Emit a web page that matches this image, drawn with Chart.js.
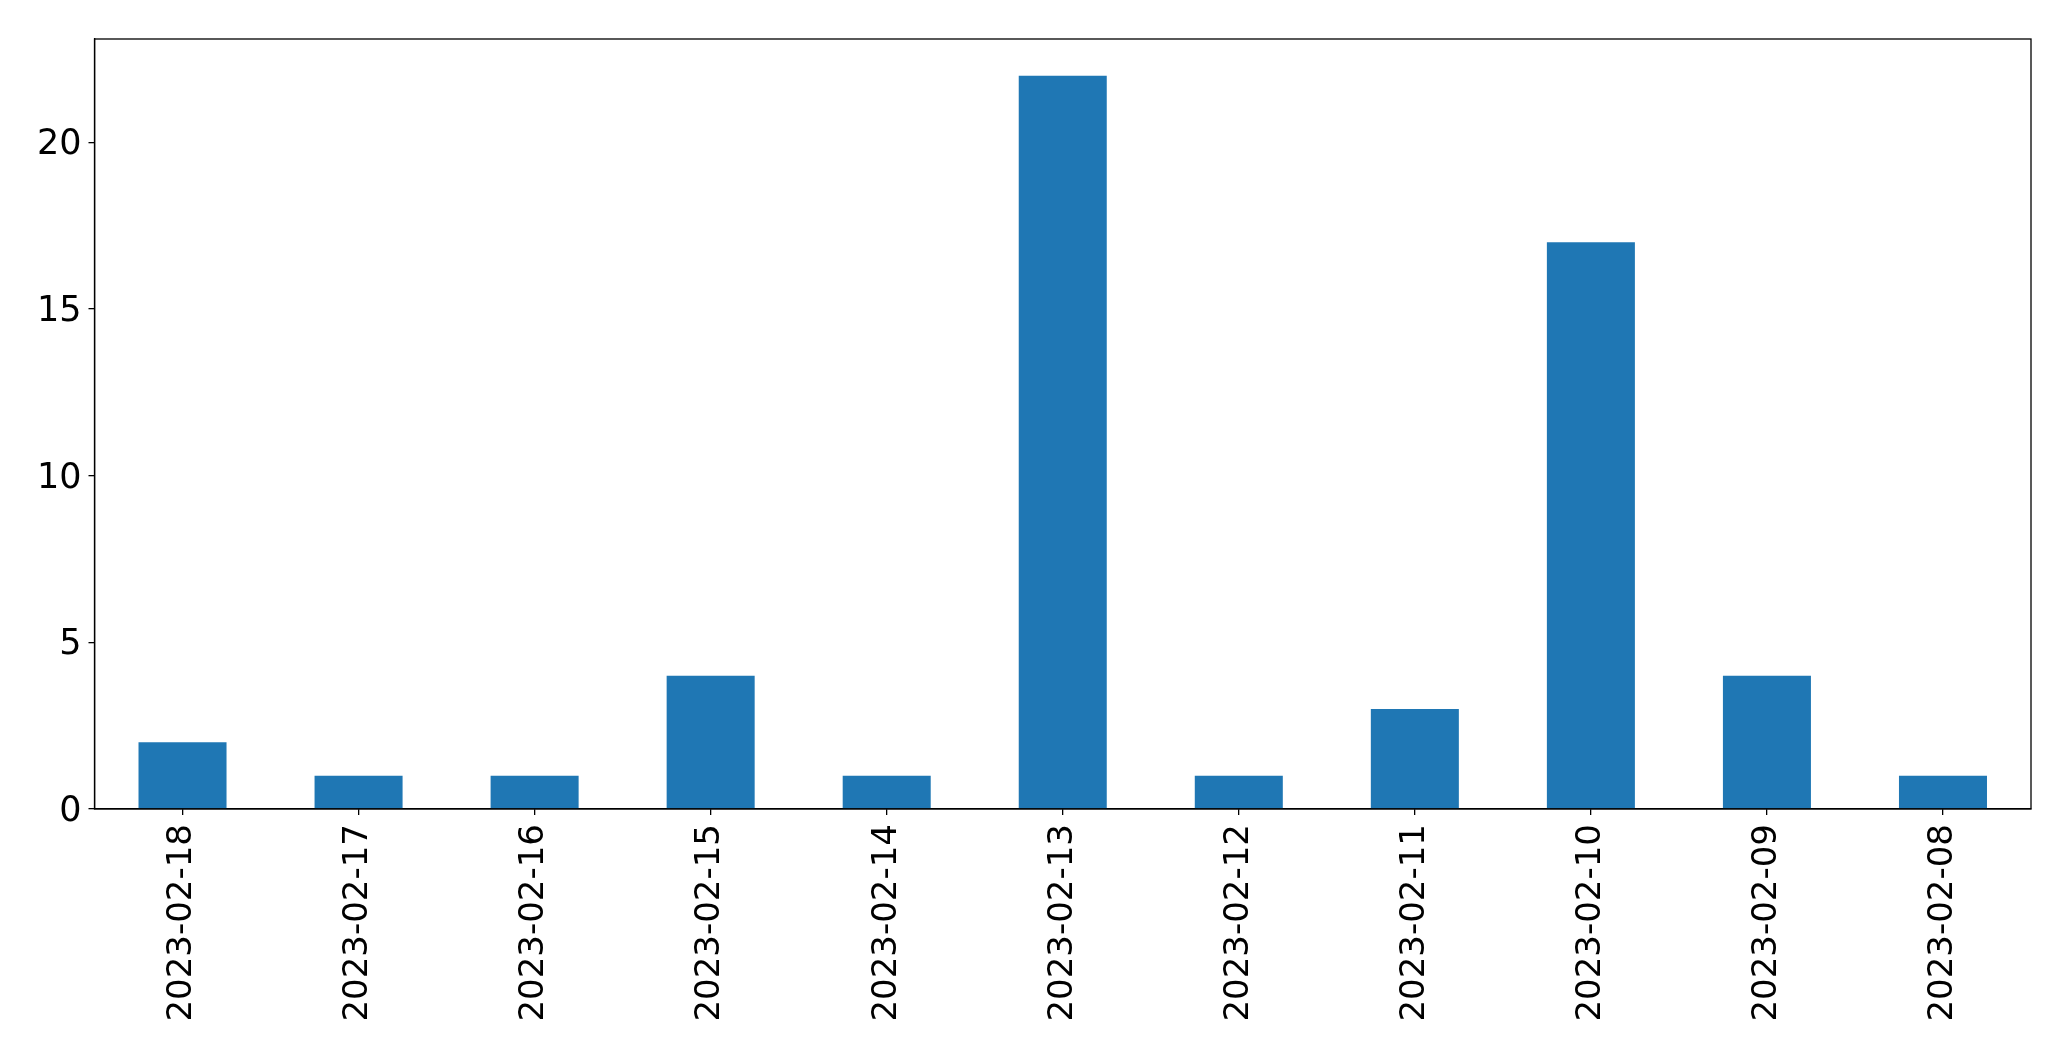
<!DOCTYPE html>
<html>
<head>
<meta charset="utf-8">
<script src="https://cdn.jsdelivr.net/npm/chart.js@4/dist/chart.umd.min.js"></script>
<style>
  html, body { margin: 0; padding: 0; background: #fff; }
  #wrap { width: 2071px; height: 1061px; }
</style>
</head>
<body>
<div id="wrap"><canvas id="chart" width="2071" height="1061"></canvas></div>
<script>
const categories = ['2023-02-18', '2023-02-17', '2023-02-16', '2023-02-15', '2023-02-14', '2023-02-13',
  '2023-02-12', '2023-02-11', '2023-02-10', '2023-02-09', '2023-02-08'];
const counts = [2, 1, 1, 4, 1, 22, 1, 3, 17, 4, 1];
const yTicks = [0, 5, 10, 15, 20];

// box around the plot area, like the matplotlib frame
const frame = {
  id: 'frame',
  afterDraw(chart) {
    const { ctx, chartArea: a } = chart;
    ctx.save();
    ctx.strokeStyle = '#000';
    ctx.lineWidth = 1.3;
    ctx.strokeRect(a.left, a.top, a.right - a.left, a.bottom - a.top);
    ctx.restore();
  }
};

const font = { family: 'DejaVu Sans', size: 35 };

new Chart(document.getElementById('chart'), {
  type: 'bar',
  data: {
    labels: categories,
    datasets: [{
      data: counts,
      backgroundColor: '#1f77b4',
      categoryPercentage: 1,
      barPercentage: 0.5,
    }],
  },
  options: {
    responsive: false,
    animation: false,
    layout: { padding: { top: 39, right: 40, left: 0, bottom: 0 } },
    plugins: { legend: { display: false }, tooltip: { enabled: false } },
    scales: {
      x: {
        offset: true,
        grid: { drawOnChartArea: false, drawTicks: true, tickLength: 6, lineWidth: 1.3, color: '#000', offset: false },
        border: { color: '#000', width: 1.3 },
        ticks: { color: '#000', font: { family: 'DejaVu Sans', size: 34 }, maxRotation: 90, minRotation: 90, padding: 9, autoSkip: false },
        afterFit(axis) { axis.height = 252; },
      },
      y: {
        min: 0,
        max: 23.1,
        grid: { drawOnChartArea: false, drawTicks: true, tickLength: 6, lineWidth: 1.3, color: '#000' },
        border: { color: '#000', width: 1.3 },
        ticks: { color: '#000', font, padding: 7, labelOffset: 3 },
        afterBuildTicks(axis) { axis.ticks = yTicks.map((v) => ({ value: v })); },
        afterFit(axis) { axis.width = 94.5; },
      },
    },
  },
  plugins: [frame],
});
</script>
</body>
</html>
